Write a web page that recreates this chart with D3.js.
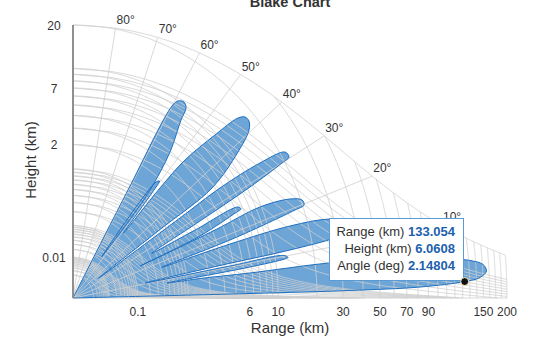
<!DOCTYPE html>
<html>
<head>
<meta charset="utf-8">
<script src="https://cdn.jsdelivr.net/npm/d3@7"></script>
<style>
  html, body { margin: 0; padding: 0; background: #ffffff; }
  svg { display: block; font-family: "Liberation Sans", Arial, sans-serif; }
</style>
</head>
<body>
<svg id="chart" width="560" height="337"></svg>
<script>
// ---- Vertical coverage boundary, traced in drawing order ----
// elevation angle (deg) and detection range (km) of each boundary vertex
const coverageElevation = [
  0, 1.30, 1.39, 1.62, 2.14804, 2.58, 3.34, 4.18, 4.83, 5.50, 6.28, 6.97, 7.20, 7.82, 8.12,
  8.82, 9.31, 9.56, 10.21, 10.33, 10.55,
  11.18, 11.19, 11.57, 12.12, 12.86, 13.96, 15.42, 16.52, 17.09, 17.19,
  18.28, 19.03, 19.51, 19.79, 20.93, 22.19, 23.51, 23.17, 23.12,
  23.58, 25.12, 25.34, 26.25, 26.46, 26.93,
  28.46, 29.28, 30.00, 30.27, 31.62, 32.84, 33.78, 33.76, 34.84,
  35.14, 35.28, 38.35, 40.47, 41.96, 43.25, 44.28, 45.74, 47.77, 48.50, 48.99,
  50.05, 50.41, 51.33, 52.14,
  51.01, 51.42, 53.38, 55.83, 56.36, 57.64, 59.20, 60.02, 60.33, 60.5
];
const coverageRange = [
  0, 5.54, 33.2, 81.9, 133.054, 155.3, 165.9, 161.0, 142.0, 104.2, 58.3, 24.9, 5.71, 1.52, 0.458,
  4.60, 11.56, 12.74, 11.91, 3.66, 0.162,
  2.84, 13.50, 28.8, 37.4, 39.5, 37.4, 28.0, 14.80, 4.10, 0.419,
  4.21, 10.63, 17.35, 20.48, 20.37, 17.00, 9.75, 3.21, 0.159,
  2.08, 5.92, 6.73, 6.46, 1.94, 0.342,
  2.45, 9.56, 19.12, 22.05, 21.65, 13.83, 5.51, 1.55, 0.0051,
  0.722, 4.74, 11.04, 16.15, 17.68, 17.53, 15.90, 9.66, 4.34, 1.68, 0.195,
  1.50, 1.91, 1.75, 0.027,
  0.329, 1.31, 3.94, 7.71, 9.76, 10.43, 9.96, 8.69, 0.859, 0
];

// ---- Grid values ----
const heightGridKm = [
  0.001, 0.002, 0.003, 0.004, 0.005, 0.006, 0.007, 0.008, 0.009,
  0.01, 0.02, 0.03, 0.04, 0.05, 0.06, 0.07, 0.08, 0.09,
  0.1, 0.2, 0.3, 0.4, 0.5, 0.6, 0.7, 0.8, 0.9,
  1, 2, 3, 4, 5, 6, 7, 8, 9, 10, 20
];
const rangeGridKm = [
  0.001, 0.002, 0.003, 0.004, 0.005, 0.006, 0.007, 0.008, 0.009,
  0.01, 0.02, 0.03, 0.04, 0.05, 0.06, 0.07, 0.08, 0.09,
  0.1, 0.2, 0.3, 0.4, 0.5, 0.6, 0.7, 0.8, 0.9,
  1, 2, 3, 4, 5, 6, 7, 8, 9,
  10, 20, 30, 40, 50, 60, 70, 80, 90, 100,
  110, 120, 130, 140, 150, 160, 170, 180, 190, 200
];
const angleGridDeg = [0, 10, 20, 30, 40, 50, 60, 70, 80, 90];
const angleLabelDeg = [10, 20, 30, 40, 50, 60, 70, 80];

// ---- Axis ticks ----
const rangeTickKm = [0.1, 5.5, 10, 30, 50, 70, 90, 160, 200];
const rangeTickText = ["0.1", "6", "10", "30", "50", "70", "90", "150", "200"];
const heightTickKm = [20, 7, 2, 0.01];
const heightTickText = ["20", "7", "2", "0.01"];

// ---- Highlighted point ----
const hoverRange = 133.054, hoverHeight = 6.0608, hoverAngle = 2.14804;

const maxRange = 200, maxHeight = 20;
const earthRadius = 8447;           // effective (refracted) earth radius, km
const plot = { left: 73, right: 507, top: 25, bottom: 298 };

const svg = d3.select("#chart");
const rad = Math.PI / 180;

// Range and height both compressed with a 1/4 power
const radX = d3.scalePow().exponent(0.25).domain([0, maxRange]).range([0, plot.right - plot.left]);
const radY = d3.scalePow().exponent(0.25).domain([0, maxHeight]).range([0, plot.bottom - plot.top]);
function toXY(elevDeg, rangeKm) {
  const t = elevDeg * rad;
  return [plot.left + radX(rangeKm) * Math.cos(t), plot.bottom - radY(rangeKm) * Math.sin(t)];
}
function rangeForHeight(h, elevDeg) {
  const s = Math.sin(elevDeg * rad);
  return -earthRadius * s + Math.sqrt(earthRadius * earthRadius * s * s + h * h + 2 * h * earthRadius);
}
function elevFor(R, h) {
  const v = (h * h + 2 * h * earthRadius - R * R) / (2 * R * earthRadius);
  return Math.asin(Math.max(-1, Math.min(1, v))) / rad;
}
function maxRangeAt(elevDeg) { return Math.min(maxRange, rangeForHeight(maxHeight, elevDeg)); }

const line = d3.line();
const gridColor = "#cfcfcf";

// ---- Coverage fill ----
const covPts = coverageElevation.map((e, i) => toXY(e, coverageRange[i]));
const covPath = d3.line().curve(d3.curveCatmullRom.alpha(0.5))(covPts) + "Z";
svg.append("path").attr("d", covPath)
  .attr("fill", "rgb(52,130,199)").attr("fill-opacity", 0.72).attr("stroke", "none");

// ---- Grid ----
const grid = svg.append("g").attr("fill", "none").attr("stroke", gridColor)
  .attr("stroke-width", 1).attr("stroke-opacity", 0.8);

// constant-height curves
heightGridKm.forEach(h => {
  const rEnd = Math.min(maxRange, Math.sqrt(h * h + 2 * h * earthRadius));
  const u0 = Math.pow(h, 0.25), u1 = Math.pow(rEnd, 0.25);
  const pts = d3.range(0, 241).map(i => {
    const R = Math.pow(u0 + (u1 - u0) * i / 240, 4);
    return toXY(elevFor(R, h), R);
  });
  grid.append("path").attr("d", line(pts));
});

// constant-range arcs
rangeGridKm.forEach(R => {
  const top = elevFor(R, maxHeight);
  const pts = d3.range(0, 121).map(i => toXY(top * i / 120, R));
  grid.append("path").attr("d", line(pts));
});

// elevation rays
angleGridDeg.forEach(a => {
  grid.append("path").attr("d", line([toXY(a, 0), toXY(a, maxRangeAt(a))]));
});

// ---- Coverage outline ----
svg.append("path").attr("d", covPath)
  .attr("fill", "none").attr("stroke", "#2070c0").attr("stroke-width", 1);

// ---- Height axis line ----
svg.append("line").attr("x1", plot.left).attr("x2", plot.left)
  .attr("y1", plot.top).attr("y2", plot.bottom)
  .attr("stroke", "#8f8f8f").attr("stroke-width", 2);

// ---- Angle labels ----
svg.append("g").selectAll("text").data(angleLabelDeg).join("text")
  .attr("x", d => toXY(d, maxRangeAt(d))[0] + 1)
  .attr("y", d => toXY(d, maxRangeAt(d))[1] - 4)
  .attr("font-size", 12).attr("fill", "#333")
  .text(d => d + "\u00B0");

// ---- Range tick labels ----
svg.append("g").selectAll("text").data(rangeTickKm).join("text")
  .attr("x", d => toXY(0, d)[0])
  .attr("y", 316)
  .attr("text-anchor", "middle").attr("font-size", 12).attr("fill", "#333")
  .text((d, i) => rangeTickText[i]);

// ---- Height tick labels ----
svg.append("g").selectAll("text").data(heightTickKm).join("text")
  .attr("x", 54)
  .attr("y", d => toXY(90, d)[1] + 4.5)
  .attr("text-anchor", "middle").attr("font-size", 12).attr("fill", "#333")
  .text((d, i) => heightTickText[i]);

// ---- Titles ----
svg.append("text").attr("x", (plot.left + plot.right) / 2).attr("y", 7)
  .attr("text-anchor", "middle").attr("font-size", 14.5).attr("font-weight", "bold")
  .attr("fill", "#333").text("Blake Chart");
svg.append("text").attr("x", (plot.left + plot.right) / 2).attr("y", 332.5)
  .attr("text-anchor", "middle").attr("font-size", 15).attr("fill", "#333")
  .text("Range (km)");
svg.append("text").attr("transform", "translate(36,160) rotate(-90)")
  .attr("text-anchor", "middle").attr("font-size", 15).attr("fill", "#333")
  .text("Height (km)");

// ---- Hovered point and tooltip ----
const hp = toXY(hoverAngle, hoverRange);
const tipW = 134, tipH = 62;
const tx = hp[0] - 1.5 - tipW, ty = hp[1] - 1.5 - tipH;
const tip = svg.append("g");
tip.append("rect").attr("x", Math.round(tx) + 0.5).attr("y", Math.round(ty) + 0.5)
  .attr("width", tipW).attr("height", tipH)
  .attr("fill", "#ffffff").attr("stroke", "#5b9bd5").attr("stroke-width", 1);
const rows = [
  ["Range (km) ", String(hoverRange)],
  ["Height (km) ", String(hoverHeight)],
  ["Angle (deg) ", String(hoverAngle)]
];
rows.forEach((r, i) => {
  const t = tip.append("text")
    .attr("x", Math.round(tx) + tipW - 8).attr("y", Math.round(ty) + 18 + i * 16.8)
    .attr("text-anchor", "end").attr("font-size", 13).attr("fill", "#333");
  t.append("tspan").text(r[0]);
  t.append("tspan").attr("font-weight", "bold").attr("fill", "#1d5fae").text(r[1]);
});
svg.append("circle").attr("cx", hp[0]).attr("cy", hp[1]).attr("r", 4)
  .attr("fill", "#111").attr("stroke", "#fff8d0").attr("stroke-width", 1);
</script>
</body>
</html>
